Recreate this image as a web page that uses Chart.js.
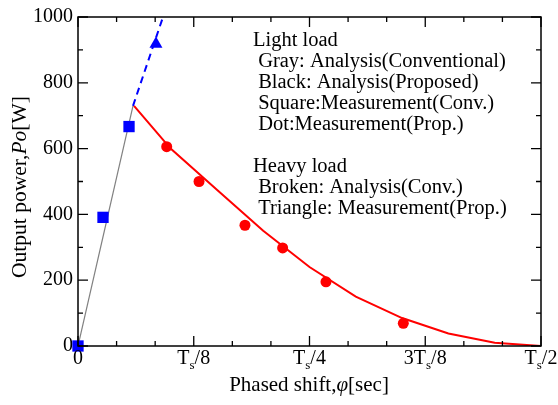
<!DOCTYPE html>
<html>
<head>
<meta charset="utf-8">
<script src="https://cdn.jsdelivr.net/npm/chart.js@4"></script>
<style>
  html, body { margin: 0; padding: 0; background: #fff; }
  #wrap { width: 558px; height: 405px; }
</style>
</head>
<body>
<div id="wrap"><canvas id="c"></canvas></div>
<script>
// x in units of Ts, y in W
const grayX = [0, 0.0594];
const grayY = [0, 730];
const dashX = [0.0594, 0.1038];
const dashY = [730, 1100];
const redLineX = [0.0605, 0.1, 0.15, 0.2, 0.25, 0.3, 0.35, 0.4, 0.45, 0.5];
const redLineY = [730, 600, 475, 350, 240, 150, 85, 38, 10, 0];
const squareX = [0, 0.027, 0.0551];
const squareY = [0, 391, 667];
const triX = [0.0842];
const triY = [918];
const dotX = [0.0958, 0.1307, 0.1803, 0.221, 0.2678, 0.3513];
const dotY = [606, 500, 367, 298, 195, 69];

const xTickVals = [0, 0.125, 0.25, 0.375, 0.5];
const xTickMain = ['0', 'T', 'T', '3T', 'T'];
const xTickSub = ['', 's', 's', 's', 's'];
const xTickTail = ['', '/8', '/4', '/8', '/2'];

const noteLines = [
  'Light load',
  ' Gray: Analysis(Conventional)',
  ' Black: Analysis(Proposed)',
  ' Square:Measurement(Conv.)',
  ' Dot:Measurement(Prop.)',
  '',
  'Heavy load',
  ' Broken: Analysis(Conv.)',
  ' Triangle: Measurement(Prop.)'
];

const pts = (xs, ys) => xs.map((x, i) => ({ x: x, y: ys[i] }));
const SERIF = '"Liberation Serif", "Times New Roman", serif';

const decor = {
  id: 'decor',
  afterDraw(chart) {
    const ctx = chart.ctx;
    const a = chart.chartArea;
    const xs = chart.scales.x, ys = chart.scales.y;
    ctx.save();
    ctx.strokeStyle = '#000';
    ctx.lineWidth = 1.5;
    ctx.strokeRect(a.left, a.top, a.right - a.left, a.bottom - a.top);
    // inner ticks on all four sides
    ctx.lineWidth = 1.3;
    ctx.beginPath();
    for (let i = 0; i <= 12; i++) {
      const px = xs.getPixelForValue(i / 24);
      const len = i % 3 === 0 ? 10 : 5;
      ctx.moveTo(px, a.bottom); ctx.lineTo(px, a.bottom - len);
      ctx.moveTo(px, a.top); ctx.lineTo(px, a.top + len);
    }
    for (let v = 0; v <= 1000; v += 100) {
      const py = ys.getPixelForValue(v);
      const len = v % 200 === 0 ? 10 : 5;
      ctx.moveTo(a.left, py); ctx.lineTo(a.left + len, py);
      ctx.moveTo(a.right, py); ctx.lineTo(a.right - len, py);
    }
    ctx.stroke();

    ctx.fillStyle = '#000';
    ctx.textBaseline = 'alphabetic';
    // x tick labels with subscript s
    xTickVals.forEach((v, i) => {
      const px = xs.getPixelForValue(v);
      ctx.font = '20px ' + SERIF;
      const w1 = ctx.measureText(xTickMain[i]).width;
      const w3 = ctx.measureText(xTickTail[i]).width;
      ctx.font = '13px ' + SERIF;
      const w2 = ctx.measureText(xTickSub[i]).width;
      let x0 = px - (w1 + w2 + w3) / 2;
      const base = 364;
      ctx.textAlign = 'left';
      ctx.font = '20px ' + SERIF;
      ctx.fillText(xTickMain[i], x0, base);
      ctx.font = '13px ' + SERIF;
      ctx.fillText(xTickSub[i], x0 + w1, base + 5);
      ctx.font = '20px ' + SERIF;
      ctx.fillText(xTickTail[i], x0 + w1 + w2, base);
    });

    // x axis title
    const xParts = [['Phased shift,', ''], ['φ', 'italic '], ['[sec]', '']];
    drawParts(ctx, xParts, 309, 391, 21);

    // y axis title
    ctx.save();
    ctx.translate(26, 187);
    ctx.rotate(-Math.PI / 2);
    const yParts = [['Output power,', ''], ['Po', 'italic '], ['[W]', '']];
    drawParts(ctx, yParts, 0, 0, 21.5);
    ctx.restore();

    // annotation text
    ctx.textAlign = 'left';
    ctx.font = '20.5px ' + SERIF;
    noteLines.forEach((t, i) => {
      ctx.fillText(t, 253, 46 + i * 21);
    });
    ctx.restore();
  }
};

function drawParts(ctx, parts, cx, base, size) {
  let total = 0;
  const widths = parts.map(p => {
    ctx.font = p[1] + size + 'px ' + SERIF;
    const w = ctx.measureText(p[0]).width;
    total += w;
    return w;
  });
  let x = cx - total / 2;
  ctx.textAlign = 'left';
  parts.forEach((p, i) => {
    ctx.font = p[1] + size + 'px ' + SERIF;
    ctx.fillText(p[0], x, base);
    x += widths[i];
  });
}

new Chart(document.getElementById('c'), {
  type: 'scatter',
  data: {
    datasets: [
      {
        data: pts(squareX, squareY),
        pointStyle: 'rect', pointRadius: 8, pointHoverRadius: 8,
        backgroundColor: '#0000ff', borderColor: '#0000ff', borderWidth: 0,
        clip: false
      },
      {
        data: pts(triX, triY),
        pointStyle: 'triangle', pointRadius: 7.5, pointHoverRadius: 7.5,
        backgroundColor: '#0000ff', borderColor: '#0000ff', borderWidth: 0
      },
      {
        data: pts(dotX, dotY),
        pointStyle: 'circle', pointRadius: 5.5, pointHoverRadius: 5.5,
        backgroundColor: '#ff0000', borderColor: '#ff0000', borderWidth: 0
      },
      {
        data: pts(redLineX, redLineY),
        showLine: true, pointRadius: 0, borderColor: '#ff0000', borderWidth: 2, tension: 0
      },
      {
        data: pts(dashX, dashY),
        showLine: true, pointRadius: 0, borderColor: '#0000ff', borderWidth: 2,
        borderDash: [7, 5], tension: 0
      },
      {
        data: pts(grayX, grayY),
        showLine: true, pointRadius: 0, borderColor: '#808080', borderWidth: 1.2, tension: 0
      }
    ]
  },
  options: {
    responsive: true,
    maintainAspectRatio: false,
    animation: false,
    layout: { padding: { top: 16, right: 17, left: 0, bottom: 0 } },
    plugins: { legend: { display: false }, tooltip: { enabled: false } },
    scales: {
      x: {
        type: 'linear', min: 0, max: 0.5,
        grid: { display: false, drawTicks: false },
        border: { display: false },
        ticks: { display: false, stepSize: 0.125 },
        afterFit: s => { s.height = 59; }
      },
      y: {
        type: 'linear', min: 0, max: 1000,
        grid: { display: false, drawTicks: false },
        border: { display: false },
        ticks: {
          stepSize: 200, padding: 5, color: '#000',
          font: { family: SERIF, size: 20 },
          callback: v => String(v)
        },
        afterFit: s => { s.width = 78; }
      }
    }
  },
  plugins: [decor]
});
</script>
</body>
</html>
